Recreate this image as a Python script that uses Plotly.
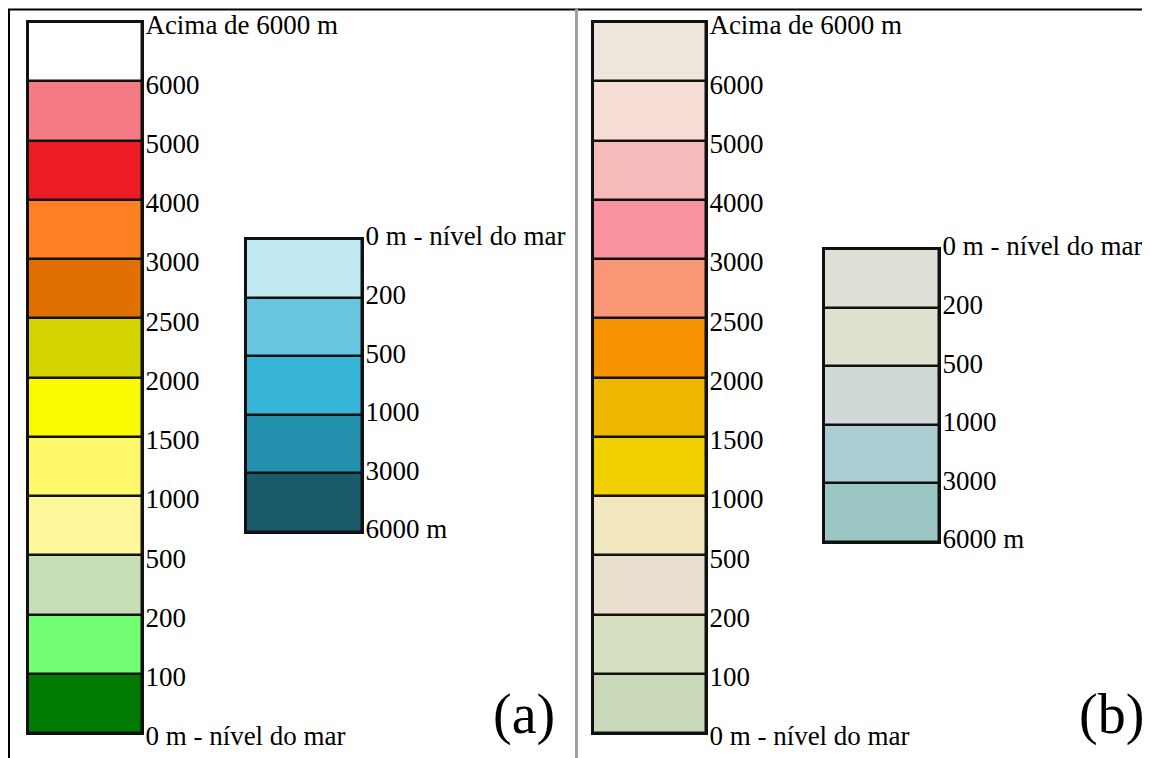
import plotly.graph_objects as go

# ---------------- data ----------------
# (a) land altitude classes, listed bottom -> top
land_labels = ["0 m - nível do mar", "100", "200", "500", "1000", "1500", "2000",
               "2500", "3000", "4000", "5000", "6000", "Acima de 6000 m"]
land_colors_a = ["#007A00", "#73FF73", "#C6DEB6", "#FFF89A", "#FFF86A", "#FAFA00",
                 "#D4D400", "#E07000", "#FF7F23", "#ED1C24", "#F47B84", "#FFFFFF"]
land_colors_b = ["#C8D8B8", "#D4E0C0", "#E8DFCE", "#F1E8BF", "#F0D000", "#EFB700",
                 "#F79200", "#F99675", "#F7939F", "#F6BABA", "#F8DCD6", "#EFE6DD"]

# sea depth classes, listed bottom (deepest) -> top
sea_labels = ["6000 m", "3000", "1000", "500", "200", "0 m - nível do mar"]
sea_colors_a = ["#1A5A6A", "#2390AE", "#37B5D8", "#66C6E0", "#C2E8F2"]
sea_colors_b = ["#9CC6C4", "#ACCDD2", "#D0D8D8", "#DFE0D0", "#DFDFD8"]

panel_labels = ["(a)", "(b)"]

# ---------------- layout helpers ----------------
OFF = 8                      # page body margin of the html page
W, H = 1150 - OFF, 758 - OFF
FONT = "Liberation Serif, Times New Roman, serif"

def px_x(x):
    return (x - OFF) / W

def px_y(y):
    return 1 - (y - OFF) / H

columns = [
    # (colors, labels, x pixel extent, y pixel extent, label shift) in screen pixels
    (land_colors_a, land_labels, (28, 142), (22, 733), 3),
    (sea_colors_a, sea_labels, (246, 362), (239, 532), -3),
    (land_colors_b, land_labels, (593, 706), (22, 733), 3),
    (sea_colors_b, sea_labels, (824, 939), (249, 542), -3),
]

fig = go.Figure()
layout = dict(
    template="none",
    width=W, height=H,
    margin=dict(l=0, r=0, t=0, b=0, pad=0),
    paper_bgcolor="white", plot_bgcolor="rgba(0,0,0,0)",
    showlegend=False, barmode="overlay", bargap=0,
    font=dict(family=FONT, color="black"),
)

for i, (colors, labels, (x0, x1), (y0, y1), shift) in enumerate(columns):
    n = len(colors)
    suffix = "" if i == 0 else str(i + 1)
    fig.add_trace(go.Bar(
        x=[0] * n, y=[1] * n, base=list(range(n)),
        width=1,
        marker=dict(color=colors, line=dict(color="#111111", width=2.5)),
        xaxis="x" + suffix, yaxis="y" + suffix,
        hoverinfo="skip", cliponaxis=False,
    ))
    layout["xaxis" + suffix] = dict(
        domain=[px_x(x0), px_x(x1)], range=[-0.5, 0.5],
        anchor="y" + suffix, fixedrange=True, automargin=False,
        showticklabels=False, ticks="", showgrid=False, zeroline=False,
        showline=True, mirror=True, linecolor="#111111", linewidth=2,
    )
    layout["yaxis" + suffix] = dict(
        domain=[px_y(y1), px_y(y0)], range=[0, n],
        anchor="x" + suffix, side="right", automargin=False,
        showgrid=False, zeroline=False, ticks="",
        showline=True, mirror=True, linecolor="#111111", linewidth=2,
        tickvals=list(range(n + 1)), ticktext=labels,
        tickfont=dict(family=FONT, size=27, color="black"),
        ticklabelshift=shift, ticklabelstandoff=-4, ticklabeloverflow="allow",
        fixedrange=True,
    )

fig.update_layout(**layout)

# frame and divider
fig.add_shape(type="line", xref="paper", yref="paper", x0=px_x(8), x1=1, y0=px_y(9.5), y1=px_y(9.5),
              line=dict(color="black", width=2))
fig.add_shape(type="line", xref="paper", yref="paper", x0=px_x(9), x1=px_x(9), y0=0, y1=px_y(9),
              line=dict(color="black", width=2))
fig.add_shape(type="line", xref="paper", yref="paper", x0=px_x(576.5), x1=px_x(576.5), y0=0, y1=px_y(9),
              line=dict(color="#A0A0A0", width=3))
fig.add_shape(type="line", xref="paper", yref="paper", x0=px_x(1148.5), x1=px_x(1148.5), y0=0, y1=px_y(9),
              line=dict(color="#C8C8C8", width=1.5))

# panel letters
for lbl, cx in zip(panel_labels, [524, 1111]):
    fig.add_annotation(text=lbl, xref="paper", yref="paper", x=px_x(cx), y=px_y(714),
                       xanchor="center", yanchor="middle", showarrow=False,
                       font=dict(family=FONT, size=56, color="black"))

fig.write_html("out.html")
